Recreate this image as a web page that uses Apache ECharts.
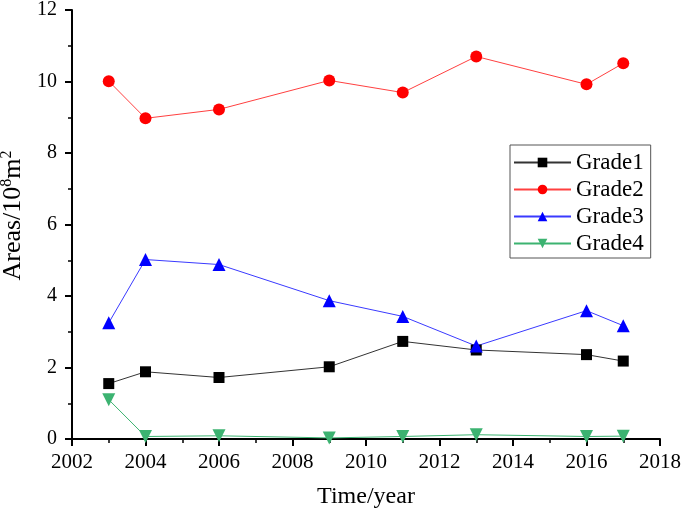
<!DOCTYPE html>
<html><head><meta charset="utf-8">
<script src="https://cdn.jsdelivr.net/npm/echarts@6/dist/echarts.min.js"></script>
<style>html,body{margin:0;padding:0;background:#fff}#c{width:685px;height:511px}</style>
</head><body><div id="c"></div>
<script>
const years = [2003, 2004, 2006, 2009, 2011, 2013, 2016, 2017];
const grade1 = [1.55, 1.88, 1.72, 2.02, 2.73, 2.49, 2.36, 2.18];
const grade2 = [10.01, 8.97, 9.22, 10.03, 9.69, 10.70, 9.92, 10.51];
const grade3 = [3.25, 5.02, 4.88, 3.87, 3.43, 2.60, 3.59, 3.17];
const grade4 = [1.10, 0.07, 0.09, 0.03, 0.07, 0.12, 0.07, 0.08];
const seriesNames = ['Grade1', 'Grade2', 'Grade3', 'Grade4'];
const font = 'Liberation Serif';

const chart = echarts.init(document.getElementById('c'), null, {renderer: 'canvas'});
function mk(name, vals, color, lineColor, symbol, size) {
  return {
    name: name, type: 'line',
    data: years.map((y, i) => [y, vals[i]]),
    symbol: symbol, symbolSize: size,
    itemStyle: {color: color},
    lineStyle: {color: lineColor, width: 1},
    emphasis: {disabled: true},
    animation: false
  };
}
chart.setOption({
  backgroundColor: '#fff',
  animation: false,
  grid: {left: 72, right: 25, top: 10, bottom: 72, containLabel: false, outerBoundsMode: 'none'},
  legend: {
    orient: 'vertical', left: 510, top: 145,
    padding: [6, 7, 3, 3],
    itemGap: 4, itemWidth: 57, itemHeight: 12,
    borderColor: '#555', borderWidth: 1,
    textStyle: {fontFamily: font, fontSize: 23, color: '#000', lineHeight: 23},
    data: seriesNames
  },
  xAxis: {
    type: 'value', min: 2002, max: 2018, interval: 2,
    name: 'Time/year', nameLocation: 'middle', nameGap: 46,
    nameTextStyle: {fontFamily: font, fontSize: 24, color: '#000'},
    axisLine: {lineStyle: {color: '#000', width: 2}},
    axisTick: {length: 7, lineStyle: {color: '#000', width: 2}},
    minorTick: {show: true, splitNumber: 2, length: 4, lineStyle: {color: '#000', width: 1.5}},
    axisLabel: {fontFamily: font, fontSize: 21, color: '#000', margin: 13, formatter: v => String(v)},
    splitLine: {show: false}
  },
  yAxis: {
    type: 'value', min: 0, max: 12, interval: 2,
    name: 'Areas/10{sup|8}m{sup|2}', nameLocation: 'middle', nameGap: 36, nameRotate: 90,
    nameTextStyle: {fontFamily: font, fontSize: 26, color: '#000', padding: [10, 0, 0, 18],
      rich: {sup: {fontFamily: font, fontSize: 16, color: '#000', verticalAlign: 'top', padding: [0, 0, 13, 0]}}},
    axisLine: {show: true, lineStyle: {color: '#000', width: 2}},
    axisTick: {show: true, length: 7, lineStyle: {color: '#000', width: 2}},
    minorTick: {show: true, splitNumber: 2, length: 4, lineStyle: {color: '#000', width: 1.5}},
    axisLabel: {fontFamily: font, fontSize: 20, color: '#000', margin: 15},
    splitLine: {show: false}
  },
  series: [
    mk('Grade1', grade1, '#000000', '#333333', 'rect', 11),
    mk('Grade2', grade2, '#ff0000', '#ff4040', 'circle', 12),
    mk('Grade3', grade3, '#0000ff', '#3a3aff', 'triangle', 13),
    mk('Grade4', grade4, '#3cb371', '#3cb371', 'path://M0,0 L10,0 L5,9 Z', 13)
  ]
});
</script></body></html>
